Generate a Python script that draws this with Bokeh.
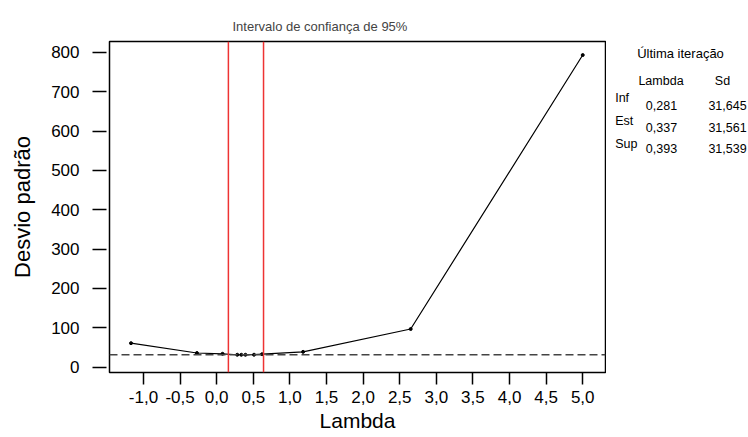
from bokeh.plotting import figure
from bokeh.models import Range1d, FixedTicker, Span
from bokeh.layouts import row
from bokeh.core.properties import value
from bokeh.embed import file_html
from bokeh.resources import INLINE

# data
lambda_vals = [-1.17, -0.27, 0.08, 0.281, 0.337, 0.393, 0.51, 0.62, 1.18, 2.65, 5.0]
sd_vals = [61, 36, 34, 31.6, 31.5, 31.5, 31.7, 33, 39, 97, 793]
ci_lower = 0.16
ci_upper = 0.64
sd_ref = 31.5
x_ticks = [-1.0, -0.5, 0.0, 0.5, 1.0, 1.5, 2.0, 2.5, 3.0, 3.5, 4.0, 4.5, 5.0]
x_tick_labels = ["-1,0", "-0,5", "0,0", "0,5", "1,0", "1,5", "2,0", "2,5", "3,0", "3,5", "4,0", "4,5", "5,0"]
y_ticks = [0, 100, 200, 300, 400, 500, 600, 700, 800]
table_title = "Última iteração"
table_headers = ["Lambda", "Sd"]
table_rows = ["Inf", "Est", "Sup"]
table_lambda = ["0,281", "0,337", "0,393"]
table_sd = ["31,645", "31,561", "31,539"]

FONT = "Liberation Sans"
H = 436
W_MAIN, W_SIDE = 606, 142
FL, FR, FT, FB = 109, 605, 41, 372  # main frame edges in canvas px

p = figure(width=W_MAIN, height=H, output_backend="svg", toolbar_location=None,
           x_range=Range1d(-1.464, 5.311), y_range=Range1d(-13.5, 827.4),
           min_border_left=FL, min_border_right=W_MAIN - FR,
           min_border_top=FT, min_border_bottom=H - FB)
p.xgrid.visible = False
p.ygrid.visible = False
p.outline_line_color = "black"
p.outline_line_width = 1.5
p.outline_line_alpha = 1.0
p.background_fill_color = "white"
p.border_fill_color = "white"

p.title.text = "Intervalo de confiança de 95%"
p.title.align = "left"
p.title.offset = 123
p.title.text_font = FONT
p.title.text_font_size = "13px"
p.title.text_font_style = "normal"
p.title.standoff = 15

for ax in (p.xaxis[0], p.yaxis[0]):
    ax.axis_line_color = None
    ax.major_tick_line_color = "black"
    ax.major_tick_line_width = 1.5
    ax.minor_tick_line_color = None
    ax.major_label_text_font = FONT
    ax.major_label_text_font_size = "17px"
    ax.major_label_text_color = "black"
    ax.axis_label_text_font = FONT
    ax.axis_label_text_font_style = "normal"
    ax.axis_label_text_color = "black"

p.xaxis.ticker = FixedTicker(ticks=x_ticks)
p.xaxis.major_label_overrides = {t: l for t, l in zip(x_ticks, x_tick_labels)}
p.xaxis.major_tick_in = 0
p.xaxis.major_tick_out = 12
p.xaxis.major_label_standoff = 6
p.xaxis.axis_label = "Lambda"
p.xaxis.axis_label_text_font_size = "21px"
p.xaxis.axis_label_standoff = 3

p.yaxis.ticker = FixedTicker(ticks=y_ticks)
p.yaxis.major_label_overrides = {t: str(t) for t in y_ticks}
p.yaxis.major_tick_in = -3
p.yaxis.major_tick_out = 17
p.yaxis.major_label_standoff = 13
p.yaxis.axis_label = "Desvio padrão"
p.yaxis.axis_label_text_font_size = "22px"
p.yaxis.axis_label_standoff = 13

# reference lines
p.add_layout(Span(location=sd_ref, dimension="width", line_color="#444444",
                  line_width=1.5, line_dash="8 4"))
for loc in (ci_lower, ci_upper):
    p.add_layout(Span(location=loc, dimension="height", line_color="#ee3333", line_width=1.5))

p.line(lambda_vals, sd_vals, line_color="black", line_width=1.2)
p.scatter(lambda_vals, sd_vals, size=3, color="black")

# side panel with the last-iteration table (its own pixel space, y downward)
side = figure(width=W_SIDE, height=H, output_backend="svg", toolbar_location=None,
              x_range=Range1d(0, W_SIDE), y_range=Range1d(FB, FT),
              x_axis_type=None, y_axis_type=None,
              min_border_left=0, min_border_right=0,
              min_border_top=FT, min_border_bottom=H - FB)
side.outline_line_color = None
side.background_fill_color = "white"
side.border_fill_color = "white"

def txt(xs, ys, texts, size="12.5px", align="center"):
    side.text(x=xs, y=ys, text=texts, text_font=value(FONT), text_font_size=size,
              text_color="black", text_align=align, text_baseline="alphabetic")

txt([74], [52.5], [table_title], size="13px")
txt([54.5, 116], [80, 80], table_headers)
txt([8.7] * 3, [97, 120, 143], table_rows, align="left")
txt([55] * 3, [105, 126.5, 148], table_lambda)
txt([121] * 3, [105, 126.5, 148], table_sd)

layout = row(p, side)
open("out.html", "w").write(file_html(layout, INLINE))
